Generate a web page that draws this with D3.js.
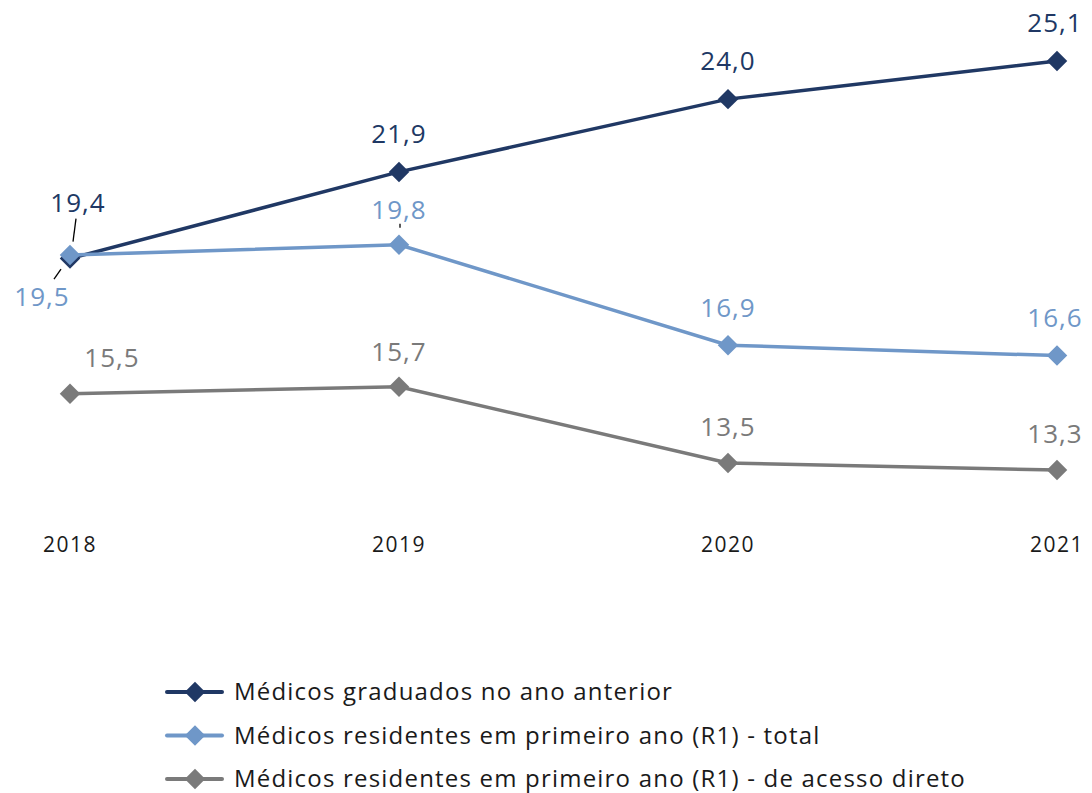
<!DOCTYPE html>
<html><head><meta charset="utf-8">
<script src="https://cdn.jsdelivr.net/npm/d3@7"></script>
<style>body{margin:0;background:#fff;}svg{display:block;font-family:"Open Sans",Lato,sans-serif;}</style>
</head><body>
<svg id="c" width="1092" height="793"></svg>
<script>
const years = ["2018","2019","2020","2021"];
const graduados = [19.4, 21.9, 24.0, 25.1];
const r1Total = [19.5, 19.8, 16.9, 16.6];
const r1Direto = [15.5, 15.7, 13.5, 13.3];
const seriesNames = ["Médicos graduados no ano anterior","Médicos residentes em primeiro ano (R1) - total","Médicos residentes em primeiro ano (R1) - de acesso direto"];
const colors = ["#203864","#6f97c8","#7a7a7a"];
const fmt = v => d3.format(".1f")(v).replace(".", ",");

const svg = d3.select("#c");
const x = d3.scalePoint().domain(years).range([70,1057]);
const y = d3.scaleLinear().domain([13.3,25.1]).range([470,61]);

const series = [graduados, r1Total, r1Direto];
const offs = [
  [[8,-56],[0,-38],[0,-38],[-2,-38]],
  [[-28,42],[0,-35],[0,-37],[-2,-38]],
  [[42,-36],[0,-35],[0,-36],[-2,-36]]
];
const line = d3.line().x((d,i)=>x(years[i])).y(d=>y(d));

const order = [2,0,1];
order.forEach(si=>{
  const vals = series[si];
  svg.append("path").attr("d", line(vals)).attr("fill","none").attr("stroke",colors[si]).attr("stroke-width",3.5);
  svg.selectAll(null).data(vals).enter().append("path")
    .attr("d", d3.symbol().type(d3.symbolSquare).size(210)())
    .attr("transform",(d,i)=>`translate(${x(years[i])},${y(d)}) rotate(45)`)
    .attr("fill",colors[si]);
});
series.forEach((vals,si)=>{
  svg.selectAll(null).data(vals).enter().append("text")
    .attr("x",(d,i)=>x(years[i])+offs[si][i][0])
    .attr("y",(d,i)=>y(d)+offs[si][i][1]+9)
    .attr("text-anchor","middle").attr("font-size",26).attr("letter-spacing",1)
    .attr("fill",colors[si])
    .text(d=>fmt(d));
});
const lx = x(years[0]);
svg.append("line").attr("x1",lx+6).attr("y1",y(graduados[0])-40).attr("x2",lx+3).attr("y2",y(graduados[0])-17).attr("stroke","#000").attr("stroke-width",1.3);
svg.append("line").attr("x1",lx-9).attr("y1",y(r1Total[0])+14).attr("x2",lx-16).attr("y2",y(r1Total[0])+24).attr("stroke","#000").attr("stroke-width",1.3);
svg.append("line").attr("x1",x(years[1])+1).attr("y1",y(r1Total[1])-21).attr("x2",x(years[1])+1).attr("y2",y(r1Total[1])-17).attr("stroke","#000").attr("stroke-width",1.3);

svg.selectAll(null).data(years).enter().append("text")
  .attr("x",d=>x(d)).attr("y",552).attr("text-anchor","middle").attr("font-size",21).attr("letter-spacing",1.5).attr("fill","#1a1a1a").text(d=>d);

seriesNames.forEach((n,i)=>{
  const ly = 692 + i*43.5;
  const g = svg.append("g");
  g.append("line").attr("x1",167).attr("x2",222).attr("y1",ly).attr("y2",ly).attr("stroke",colors[i]).attr("stroke-width",4).attr("stroke-linecap","round");
  g.append("path").attr("d", d3.symbol().type(d3.symbolSquare).size(210)()).attr("transform",`translate(195,${ly}) rotate(45)`).attr("fill",colors[i]);
  g.append("text").attr("x",234).attr("y",ly+8).attr("font-size",24).attr("letter-spacing",1.2).attr("fill","#1a1a1a").text(n);
});
</script>
</body></html>
